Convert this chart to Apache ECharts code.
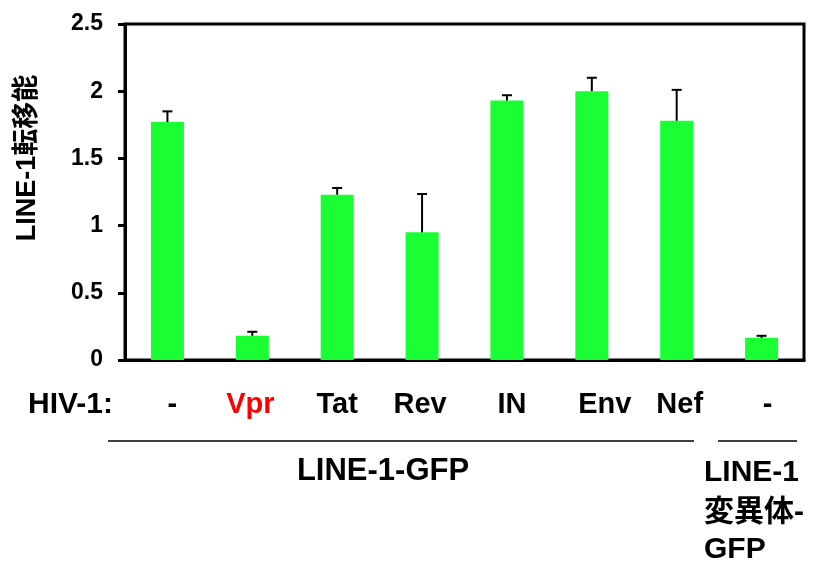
<!DOCTYPE html>
<html><head><meta charset="utf-8">
<script src="https://cdn.jsdelivr.net/npm/echarts@6/dist/echarts.min.js"></script>
<style>html,body{margin:0;padding:0;background:#fff}#c{width:817px;height:562px}</style>
</head><body><div id="c"></div>
<script>
const categories = ['-', 'Vpr', 'Tat', 'Rev', 'IN', 'Env', 'Nef', '-'];
const values = [1.77, 0.18, 1.23, 0.95, 1.93, 2.00, 1.78, 0.165];
const errorTops = [1.85, 0.21, 1.28, 1.235, 1.97, 2.10, 2.01, 0.18];
const yTicks = [0, 0.5, 1, 1.5, 2, 2.5];

const FONT = '"Liberation Sans", Arial, "Noto Sans CJK JP", sans-serif';
const chart = echarts.init(document.getElementById('c'));
const errData = values.map((v, i) => [i, v, errorTops[i]]);
// small horizontal nudges of the category labels (px), to match the original placement
const labelShift = [5, -2, 0, -2, 5, 13, 3, 6];
const rich = {};
labelShift.forEach((s, i) => {
  rich['c' + i] = {
    fontSize: 29, fontWeight: 'bold', fontFamily: FONT,
    color: i === 1 ? '#ff0000' : '#000',
    padding: s >= 0 ? [0, 0, 0, 2 * s] : [0, -2 * s, 0, 0]
  };
});
chart.setOption({
  animation: false,
  grid: {left: 125, right: 13, top: 24, bottom: 202, show: true, borderColor: '#000', borderWidth: 3, backgroundColor: 'transparent'},
  xAxis: {
    type: 'category', data: categories,
    axisLine: {lineStyle: {color: '#000', width: 3}},
    axisTick: {show: false},
    axisLabel: {
      interval: 0, margin: 30, fontSize: 29, fontWeight: 'bold', fontFamily: FONT, color: '#000',
      formatter: (v, i) => '{c' + i + '|' + v + '}',
      rich: rich
    }
  },
  yAxis: {
    type: 'value', min: 0, max: 2.5, interval: 0.5,
    axisLine: {show: true, lineStyle: {color: '#000', width: 3}},
    axisTick: {show: true, length: 7, lineStyle: {color: '#000', width: 3}},
    splitLine: {show: false},
    axisLabel: {margin: 22, fontSize: 23, fontWeight: 'bold', fontFamily: FONT, color: '#000',
      formatter: v => String(v)}
  },
  graphic: [
    {type: 'text', x: 28, y: 158, rotation: Math.PI / 2,
      style: {text: 'LINE-1転移能', font: 'bold 27px ' + FONT, fill: '#000', align: 'center', verticalAlign: 'middle'}},
    {type: 'text', x: 28, y: 405,
      style: {text: 'HIV-1:', font: 'bold 30px ' + FONT, fill: '#000', align: 'left', verticalAlign: 'middle'}},
    {type: 'line', shape: {x1: 108, y1: 441, x2: 694, y2: 441}, style: {stroke: '#000', lineWidth: 1.5}},
    {type: 'line', shape: {x1: 718, y1: 441, x2: 797, y2: 441}, style: {stroke: '#000', lineWidth: 1.5}},
    {type: 'text', x: 383, y: 471,
      style: {text: 'LINE-1-GFP', font: 'bold 31px ' + FONT, fill: '#000', align: 'center', verticalAlign: 'middle'}},
    {type: 'text', x: 704, y: 473,
      style: {text: 'LINE-1', font: 'bold 30px ' + FONT, fill: '#000', align: 'left', verticalAlign: 'middle'}},
    {type: 'text', x: 704, y: 513,
      style: {text: '変異体-', font: 'bold 30px ' + FONT, fill: '#000', align: 'left', verticalAlign: 'middle'}},
    {type: 'text', x: 704, y: 550,
      style: {text: 'GFP', font: 'bold 30px ' + FONT, fill: '#000', align: 'left', verticalAlign: 'middle'}}
  ],
  series: [
    {type: 'bar', data: values, barWidth: 33, itemStyle: {color: '#19ff33'}, z: 2},
    {type: 'custom', data: errData, z: 3,
      renderItem: (params, api) => {
        const x = api.value(0);
        const p0 = api.coord([x, api.value(1)]);
        const p1 = api.coord([x, api.value(2)]);
        const hw = 5;
        return {type: 'group', children: [
          {type: 'line', shape: {x1: p0[0], y1: p0[1], x2: p1[0], y2: p1[1]}, style: {stroke: '#000', lineWidth: 2}},
          {type: 'line', shape: {x1: p1[0] - hw, y1: p1[1], x2: p1[0] + hw, y2: p1[1]}, style: {stroke: '#000', lineWidth: 2}}
        ]};
      }}
  ]
});
</script></body></html>
